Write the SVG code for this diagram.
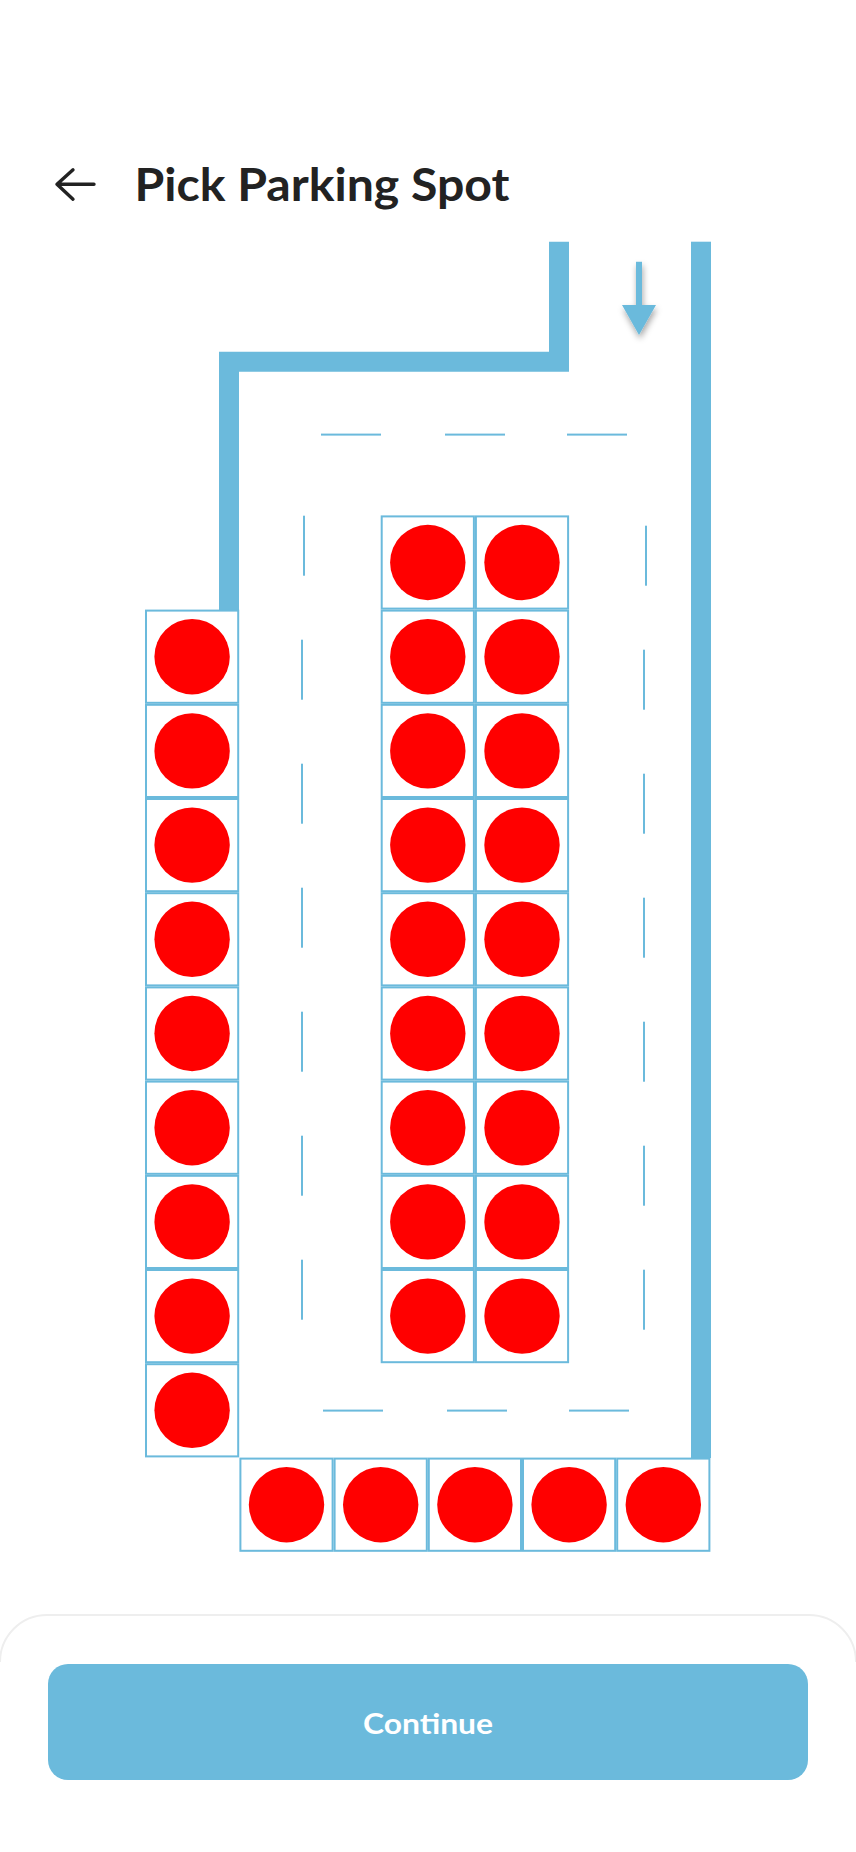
<svg xmlns="http://www.w3.org/2000/svg" width="856" height="1852" viewBox="0 0 856 1852">
<style>
.wall{fill:#6bbadc}
.dash{fill:#6bbadc}
.box{fill:#fff;stroke:#6bbadc;stroke-width:2}
.dot{fill:#f00}
.title{font-family:"Lato","Liberation Sans",sans-serif;font-weight:700;font-size:46px;fill:#222}
.cta{font-family:"Lato","Liberation Sans",sans-serif;font-weight:700;font-size:29px;fill:#fff}
</style>
<defs>
<g id="spot"><rect class="box" x="1" y="1" width="92.2" height="92.2"/><circle class="dot" cx="47.1" cy="47.1" r="37.7"/></g>
<filter id="sh" x="-50%" y="-50%" width="200%" height="200%"><feDropShadow dx="1" dy="4" stdDeviation="3" flood-color="#000" flood-opacity=".35"/></filter>
</defs>
<rect width="856" height="1852" fill="#fff"/>
<g id="header">
<path d="M94 184.3H57M73 169.8L57 184.3L73 199.2" fill="none" stroke="#222" stroke-width="3.4" stroke-linecap="round" stroke-linejoin="round"/>
<text class="title" x="134.5" y="200.7" textLength="375" lengthAdjust="spacingAndGlyphs">Pick Parking Spot</text>
</g>
<g id="walls">
<path class="wall" d="M549 241.7H569V371.7H239V610H219V351.7H549Z"/>
<rect class="wall" x="691" y="241.7" width="20" height="1216.3"/>
</g>
<g id="arrow" filter="url(#sh)"><path class="wall" d="M636 261.7H642V305H656L639 335L622 305H636Z"/></g>
<g id="lane-marks">
<rect class="dash" x="321" y="433.6" width="60" height="2"/>
<rect class="dash" x="445" y="433.6" width="60" height="2"/>
<rect class="dash" x="567" y="433.6" width="60" height="2"/>
<rect class="dash" x="323" y="1409.6" width="60" height="2"/>
<rect class="dash" x="447" y="1409.6" width="60" height="2"/>
<rect class="dash" x="569" y="1409.6" width="60" height="2"/>
<rect class="dash" x="303" y="515.7" width="2" height="60"/>
<rect class="dash" x="301" y="639.7" width="2" height="60"/>
<rect class="dash" x="301" y="763.7" width="2" height="60"/>
<rect class="dash" x="301" y="887.7" width="2" height="60"/>
<rect class="dash" x="301" y="1011.7" width="2" height="60"/>
<rect class="dash" x="301" y="1135.7" width="2" height="60"/>
<rect class="dash" x="301" y="1259.7" width="2" height="60"/>
<rect class="dash" x="645" y="525.7" width="2" height="60"/>
<rect class="dash" x="643" y="649.7" width="2" height="60"/>
<rect class="dash" x="643" y="773.7" width="2" height="60"/>
<rect class="dash" x="643" y="897.7" width="2" height="60"/>
<rect class="dash" x="643" y="1021.7" width="2" height="60"/>
<rect class="dash" x="643" y="1145.7" width="2" height="60"/>
<rect class="dash" x="643" y="1269.7" width="2" height="60"/>
</g>
<g id="spot-l1" transform="translate(145,609.6)"><use href="#spot"/></g>
<g id="spot-l2" transform="translate(145,703.8)"><use href="#spot"/></g>
<g id="spot-l3" transform="translate(145,798)"><use href="#spot"/></g>
<g id="spot-l4" transform="translate(145,892.2)"><use href="#spot"/></g>
<g id="spot-l5" transform="translate(145,986.4)"><use href="#spot"/></g>
<g id="spot-l6" transform="translate(145,1080.6)"><use href="#spot"/></g>
<g id="spot-l7" transform="translate(145,1174.8)"><use href="#spot"/></g>
<g id="spot-l8" transform="translate(145,1269)"><use href="#spot"/></g>
<g id="spot-l9" transform="translate(145,1363.2)"><use href="#spot"/></g>
<g id="spot-a1" transform="translate(380.7,515.4)"><use href="#spot"/></g>
<g id="spot-a2" transform="translate(380.7,609.6)"><use href="#spot"/></g>
<g id="spot-a3" transform="translate(380.7,703.8)"><use href="#spot"/></g>
<g id="spot-a4" transform="translate(380.7,798)"><use href="#spot"/></g>
<g id="spot-a5" transform="translate(380.7,892.2)"><use href="#spot"/></g>
<g id="spot-a6" transform="translate(380.7,986.4)"><use href="#spot"/></g>
<g id="spot-a7" transform="translate(380.7,1080.6)"><use href="#spot"/></g>
<g id="spot-a8" transform="translate(380.7,1174.8)"><use href="#spot"/></g>
<g id="spot-a9" transform="translate(380.7,1269)"><use href="#spot"/></g>
<g id="spot-b1" transform="translate(474.9,515.4)"><use href="#spot"/></g>
<g id="spot-b2" transform="translate(474.9,609.6)"><use href="#spot"/></g>
<g id="spot-b3" transform="translate(474.9,703.8)"><use href="#spot"/></g>
<g id="spot-b4" transform="translate(474.9,798)"><use href="#spot"/></g>
<g id="spot-b5" transform="translate(474.9,892.2)"><use href="#spot"/></g>
<g id="spot-b6" transform="translate(474.9,986.4)"><use href="#spot"/></g>
<g id="spot-b7" transform="translate(474.9,1080.6)"><use href="#spot"/></g>
<g id="spot-b8" transform="translate(474.9,1174.8)"><use href="#spot"/></g>
<g id="spot-b9" transform="translate(474.9,1269)"><use href="#spot"/></g>
<g id="spot-c1" transform="translate(239.4,1457.6)"><use href="#spot"/></g>
<g id="spot-c2" transform="translate(333.6,1457.6)"><use href="#spot"/></g>
<g id="spot-c3" transform="translate(427.8,1457.6)"><use href="#spot"/></g>
<g id="spot-c4" transform="translate(522,1457.6)"><use href="#spot"/></g>
<g id="spot-c5" transform="translate(616.2,1457.6)"><use href="#spot"/></g>
<g id="footer">
<path d="M0 1662A47 47 0 0 1 47 1615H809A47 47 0 0 1 856 1662" fill="none" stroke="#eee" stroke-width="2"/>
<rect x="48" y="1664" width="760" height="116" rx="20" fill="#6bbadc"/>
<text class="cta" x="428" y="1734" text-anchor="middle" textLength="130" lengthAdjust="spacingAndGlyphs">Continue</text>
</g>
</svg>
